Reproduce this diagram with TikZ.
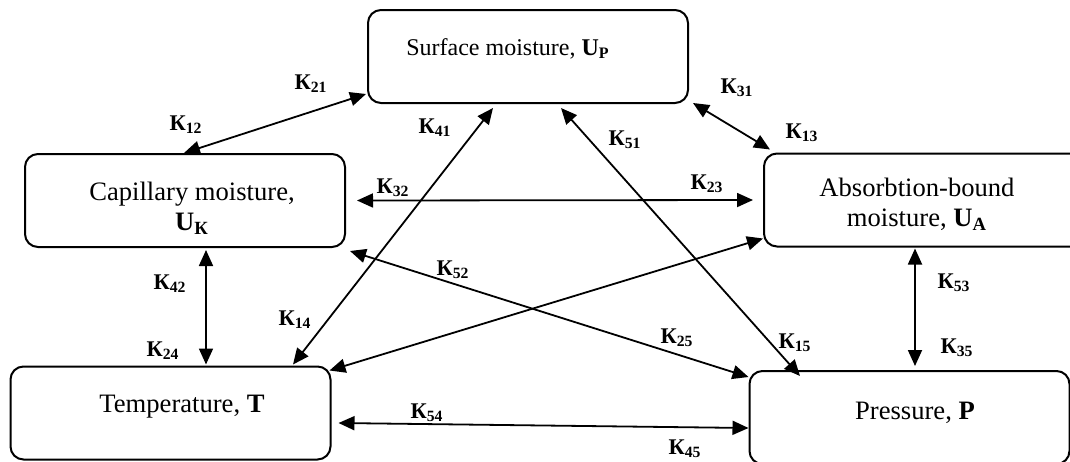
\documentclass[tikz,border=0pt]{standalone}
\usepackage{fontspec}
\setmainfont{Liberation Serif}
\usetikzlibrary{arrows.meta,calc}
\newcommand{\kc}[1]{\textbf{К}\textsubscript{\textbf{#1}}}

\begin{document}
\begin{tikzpicture}[x=0.5pt, y=-0.5pt,
  box/.style={draw, line width=1pt, rounded corners=6.5pt, minimum width=160pt, minimum height=46.5pt, inner sep=0pt},
  txt/.style={font=\fontsize{13.3}{15}\selectfont, align=center, inner sep=0pt},
  lbl/.style={font=\fontsize{11.2}{13}\selectfont, inner sep=0pt},
  link/.style={line width=0.9pt, {Triangle[length=8pt,width=7pt]}-{Triangle[length=8pt,width=7pt]}}]

\clip (0,0) rectangle (1070,461);

\node[box] at (528,56.5) (surf) {};
\node[box] at (185,200.5) (cap) {};
\node[box] at (924,200) (abs) {};
\node[box] at (170.5,413) (temp) {};
\node[box] at (909.5,417.5) (pres) {};

\node[txt, anchor=base, font=\fontsize{12}{14}\selectfont] at (508,55) (surftxt) {Surface moisture, \textbf{U}\textsubscript{\textbf{P}}};
\node[txt] at (192,208) (captxt) {Capillary moisture,\\ \textbf{U}\textsubscript{\textbf{К}}};
\node[txt] at (917,204) (abstxt) {Absorbtion-bound\\ moisture, \textbf{U}\textsubscript{\textbf{A}}};
\node[txt, anchor=base] at (182,412) (temptxt) {Temperature, \textbf{T}};
\node[txt, anchor=base] at (915,419) (prestxt) {Pressure, \textbf{P}};

% links between the boxes
\draw[link] ($(cap.north west)+(160,0)$) -- ($(surf.south west)+(-1,-10)$);
\draw[link] ($(surf.south east)+(4,-1)$) -- ($(abs.north west)+(7,-3)$);
\draw[link] ($(cap.east)+(11,0)$) -- ($(abs.west)+(-10,0)$);
\draw[link] ($(surf.south)+(-35,4)$) -- ($(temp.north)+(122.5,-1)$);
\draw[link] ($(surf.south)+(33,4)$) -- ($(pres.north)+(-109.5,6)$);
\draw[link] ($(cap.south)+(21,2)$) -- ($(temp.north)+(35.5,-1)$);
\draw[link] ($(cap.south east)+(4,3)$) -- ($(pres.north west)+(0,7)$);
\draw[link] ($(temp.north east)+(-2,5)$) -- ($(abs.south west)+(0,-9)$);
\draw[link] ($(temp.east)+(7,10)$) -- ($(pres.west)+(0,10.5)$);
\draw[link] ($(abs.south)+(-9,1)$) -- ($(pres.north)+(5.5,-4)$);

% coefficients
\node[lbl] at (311,84) (k21) {\kc{21}};
\node[lbl] at (186,125) (k12) {\kc{12}};
\node[lbl] at (737,88) (k31) {\kc{31}};
\node[lbl] at (802,133) (k13) {\kc{13}};
\node[lbl] at (393,188) (k32) {\kc{32}};
\node[lbl] at (707,184) (k23) {\kc{23}};
\node[lbl] at (435,128) (k41) {\kc{41}};
\node[lbl] at (625,140) (k51) {\kc{51}};
\node[lbl] at (170,284) (k42) {\kc{42}};
\node[lbl] at (163,351) (k24) {\kc{24}};
\node[lbl] at (295,320) (k14) {\kc{14}};
\node[lbl] at (453,270) (k52) {\kc{52}};
\node[lbl] at (677,338) (k25) {\kc{25}};
\node[lbl] at (795,343) (k15) {\kc{15}};
\node[lbl] at (427,413) (k54) {\kc{54}};
\node[lbl] at (685,449) (k45) {\kc{45}};
\node[lbl] at (954,283) (k53) {\kc{53}};
\node[lbl] at (957,348) (k35) {\kc{35}};

\end{tikzpicture}
\end{document}
